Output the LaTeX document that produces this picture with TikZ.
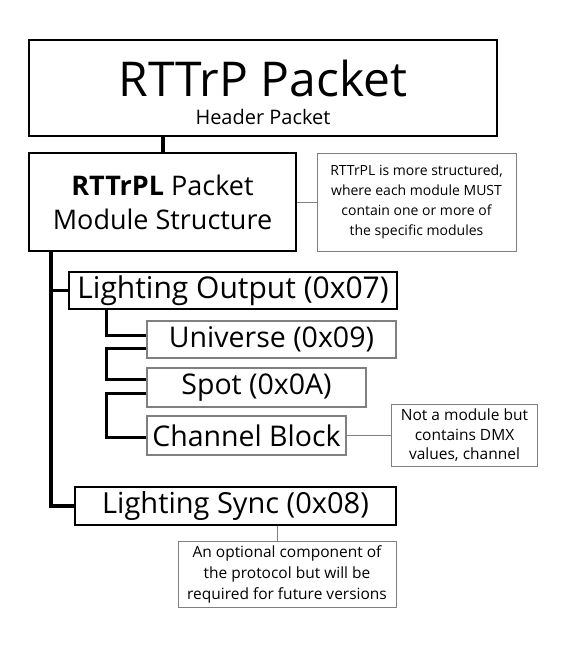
\documentclass[tikz,border=0pt]{standalone}
\usepackage{fontspec}
\setmainfont{Open Sans}
\definecolor{boxgray}{HTML}{808080}

\begin{document}
\begin{tikzpicture}[x=1pt, y=-1pt,
	mainbox/.style={draw=black, line width=2pt, inner sep=0pt, align=center},
	subbox/.style={draw=boxgray, line width=1.4pt, inner sep=0pt, font=\fontsize{28.5}{34}\selectfont},
	notebox/.style={draw=boxgray, line width=1pt, inner sep=0pt, align=center},
	thinlink/.style={draw=boxgray, line width=1pt},
	trunk/.style={line width=3.5pt},
	branch/.style={line width=3pt}]
	
	% Fix the page size
	\useasboundingbox (0,0) rectangle (564,651);
	
	% Header packet
	\node[mainbox, line width=2.5pt, minimum width=468pt, minimum height=96pt] (header) at (263,88) {};
	\node[anchor=base, font=\fontsize{48}{56}\selectfont] (title) at (263,96) {RTTrP Packet};
	\node[anchor=base, font=\fontsize{20}{24}\selectfont] (subtitle) at (263,124) {Header Packet};
	
	% Module structure and its note
	\node[mainbox, minimum width=267pt, minimum height=98pt, font=\fontsize{27}{34}\selectfont]
	(module) at (162.5,202) {\textbf{RTTrPL} Packet\\Module Structure};
	\node[notebox, minimum width=199pt, minimum height=98pt, font=\fontsize{14}{20}\selectfont]
	(note1) at (416.5,202) {RTTrPL is more structured,\\where each module MUST\\contain one or more of\\the specific modules};
	
	% Modules
	\node[mainbox, minimum width=328pt, minimum height=37pt, font=\fontsize{30}{34}\selectfont]
	(output) at (233,290.5) {Lighting Output (0x07)};
	\node[subbox, minimum width=249pt, minimum height=37pt] (universe) at (271.5,339.5) {Universe (0x09)};
	\node[subbox, minimum width=219pt, minimum height=39pt] (spot) at (256.5,387.5) {Spot (0x0A)};
	\node[subbox, minimum width=199pt, minimum height=39pt] (channel) at (246.5,435.5) {Channel Block};
	\node[notebox, minimum width=146pt, minimum height=62pt, font=\fontsize{15.5}{19.5}\selectfont]
	(note2) at (464.5,435.5) {Not a module but\\contains DMX\\values, channel};
	\node[mainbox, minimum width=321pt, minimum height=38pt, font=\fontsize{29}{34}\selectfont]
	(sync) at (235.5,506) {Lighting Sync (0x08)};
	\node[notebox, minimum width=218pt, minimum height=66pt, font=\fontsize{15.5}{21}\selectfont]
	(note3) at (287,574) {An optional component of\\the protocol but will be\\required for future versions};
	
	% Connectors
	\draw[line width=4pt] (header.south -| module.north) -- (module.north);
	\draw[thinlink] (module.east) -- (note1.west);
	\draw[trunk] ([xshift=23pt]module.south west) |- (output.west);
	\draw[trunk] ([xshift=23pt]module.south west) |- (sync.west);
	
	% Brackets between the sub modules
	\draw[branch] ([xshift=38pt]output.south west) |- ([yshift=4.5pt]universe.west);
	\draw[branch] ([yshift=-9pt]universe.west) -- ++(-40,0) |- ([yshift=8pt]spot.west);
	\draw[branch] ([yshift=-5.5pt]spot.west) -- ++(-40,0) |- ([yshift=-1.5pt]channel.west);
	
	\draw[thinlink] (channel.east) -- (note2.west);
	\draw[thinlink] ([xshift=41.5pt]sync.south) -- ([xshift=41.5pt]sync.south |- note3.north);
	
\end{tikzpicture}
\end{document}
